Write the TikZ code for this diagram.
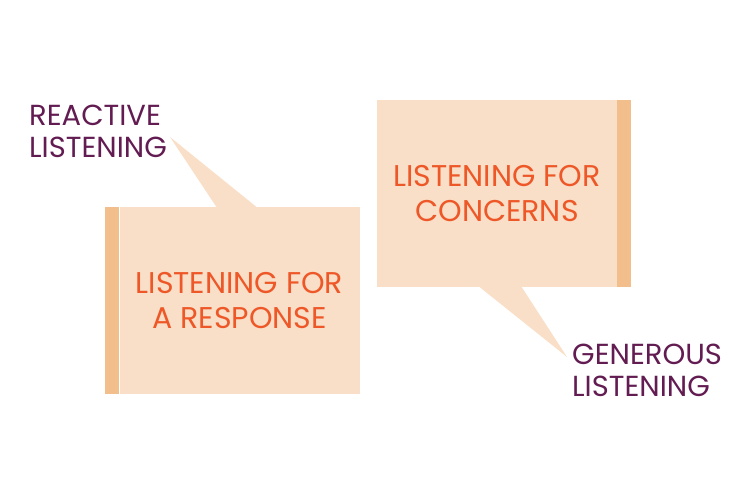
\documentclass[tikz,border=0pt]{standalone}
\usepackage{fontspec}
\setmainfont{Poppins}
\usetikzlibrary{calc}
\definecolor{bubblefill}{RGB}{249,223,199}
\definecolor{bubbleedge}{RGB}{242,190,140}
\definecolor{bubbletext}{RGB}{238,88,40}
\definecolor{listenpurple}{RGB}{98,28,82}
\tikzset{
  bubble box/.style={fill=bubblefill,inner sep=0pt,minimum width=240pt,minimum height=187pt,
    align=center,text=bubbletext,font=\fontsize{30}{35}\selectfont},
  bubble edge/.style={fill=bubbleedge},
  bubble tail/.style={fill=bubblefill},
  listen label/.style={inner sep=0pt,align=left,text=listenpurple,font=\fontsize{29}{32}\selectfont}
}
\begin{document}
\begin{tikzpicture}[x=1pt,y=1pt]
  \useasboundingbox (0,0) rectangle (750,500);
  % left bubble
  \node[bubble box] (response) at (239.5,199.5) {LISTENING FOR\\A RESPONSE};
  \fill[bubble edge] ($(response.south west)+(-14,0)$) rectangle (response.north west);
  \node[listen label,anchor=west] (reactive) at (29,369) {REACTIVE\\LISTENING};
  \coordinate (reactivetip) at (170,363);
  \fill[bubble tail] ($(response.north west)+(97,0)$) -- (reactivetip)
    -- ($(response.north west)+(137,0)$) -- cycle;
  % right bubble
  \node[bubble box] (concerns) at (497,306.5) {LISTENING FOR\\CONCERNS};
  \fill[bubble edge] (concerns.south east) rectangle ($(concerns.north east)+(14,0)$);
  \node[listen label,anchor=west] (generous) at (572,130) {GENEROUS\\LISTENING};
  \coordinate (generoustip) at (567,143);
  \fill[bubble tail] ($(concerns.south west)+(103,0)$) -- (generoustip)
    -- ($(concerns.south west)+(145,0)$) -- cycle;
\end{tikzpicture}
\end{document}
